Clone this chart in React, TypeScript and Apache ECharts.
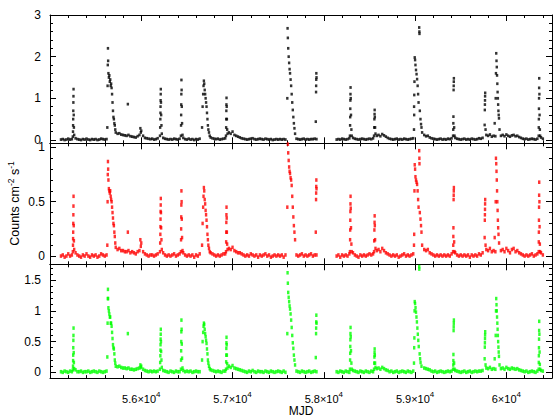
import React, { useEffect, useRef } from 'react';
import * as echarts from 'echarts';

// ---------- axes / ticks ----------
const X_MIN = 55000;
const X_MAX = 60500;
const X_MAJOR = [55000, 56000, 57000, 58000, 59000, 60000];
const X_MINOR = [55200, 55400, 55600, 55800, 56200, 56400, 56600, 56800, 57200, 57400, 57600, 57800,
  58200, 58400, 58600, 58800, 59200, 59400, 59600, 59800, 60200, 60400];
const X_LABEL_VALUES = [56000, 57000, 58000, 59000, 60000];
const X_LABEL_MANTISSA = ['5.6', '5.7', '5.8', '5.9', '6'];

const TOP_Y_RANGE = [-0.08, 3];
const TOP_Y_MAJOR = [0, 1, 2, 3];
const TOP_Y_MINOR = [0.2, 0.4, 0.6, 0.8, 1.2, 1.4, 1.6, 1.8, 2.2, 2.4, 2.6, 2.8];
const RED_Y_RANGE = [-0.076, 1.038];
const RED_Y_MAJOR = [0, 0.5, 1];
const RED_Y_MINOR = [0.1, 0.2, 0.3, 0.4, 0.6, 0.7, 0.8, 0.9];
const GREEN_Y_RANGE = [-0.094, 1.758];
const GREEN_Y_MAJOR = [0, 0.5, 1, 1.5];
const GREEN_Y_MINOR = [0.1, 0.2, 0.3, 0.4, 0.6, 0.7, 0.8, 0.9, 1.1, 1.2, 1.3, 1.4, 1.6, 1.7];

// ---------- data ----------
// quiescent monitoring, one value every BASE_STEP days from BASE_START (null = no data / flare listed separately)
const BASE_START = 55120;
const BASE_STEP = 20;
const _ = null;
const BLACK_BASE = [
  0.01, 0.02, 0.00, 0.01, 0.03, 0.01, 0.02, _, 0.04, 0.02,
  0.01, 0.00, 0.02, 0.01, 0.03, 0.01, 0.00, 0.02, 0.01, 0.02,
  0.00, 0.01, 0.03, 0.02, 0.01, 0.02, _, _, _, _,
  _, 0.15, 0.16, 0.13, 0.12, 0.11, 0.10, 0.12, 0.09, 0.08,
  0.07, 0.06, 0.09, 0.12, 0.22, 0.10, 0.05, 0.04, 0.03, 0.02,
  0.03, 0.01, 0.02, 0.04, _, _, 0.05, 0.03, 0.02, 0.01,
  0.02, 0.01, 0.03, 0.02, 0.01, 0.03, _, 0.05, 0.02, 0.01,
  0.03, 0.01, 0.02, 0.00, 0.02, 0.01, 0.03, _, _, _,
  _, _, 0.06, 0.04, 0.03, 0.02, 0.03, 0.01, 0.02, 0.03,
  0.04, _, 0.18, 0.15, 0.20, 0.12, 0.10, 0.08, 0.06, 0.04,
  0.03, 0.02, 0.01, 0.02, 0.03, 0.04, 0.02, 0.01, 0.02, 0.03,
  0.02, 0.01, 0.03, 0.02, 0.01, 0.02, 0.00, 0.01, 0.02, 0.01,
  0.02, 0.01, 0.02, 0.01, _, _, _, _, _, 0.03,
  0.02, 0.01, 0.02, 0.03, 0.01, 0.02, 0.01, 0.02, 0.02, 0.03,
  0.02, _, _, _, _, _, _, _, _, _,
  _, 0.01, 0.02, 0.01, 0.03, 0.02, 0.01, 0.02, 0.04, _,
  0.05, 0.03, 0.02, 0.01, 0.02, 0.03, 0.02, 0.01, 0.02, 0.03,
  0.02, 0.04, _, 0.10, 0.12, 0.09, 0.14, 0.11, 0.08, 0.05,
  0.03, 0.02, 0.01, 0.02, 0.03, 0.01, 0.02, 0.01, 0.03, 0.02,
  0.01, 0.02, 0.03, 0.04, _, _, _, _, _, 0.12,
  0.09, 0.10, 0.06, 0.04, 0.03, 0.02, 0.01, 0.02, 0.03, 0.01,
  0.02, 0.01, 0.03, 0.02, 0.04, _, 0.05, 0.03, 0.02, 0.01,
  0.02, 0.03, 0.01, 0.02, 0.01, 0.03, 0.02, 0.01, 0.02, 0.04,
  0.03, 0.05, _, 0.12, 0.10, 0.13, 0.08, 0.10, 0.09, _,
  _, 0.10, 0.12, 0.09, 0.13, 0.10, 0.08, 0.11, 0.12, 0.09,
  0.10, 0.07, 0.05, 0.03, 0.02, 0.03, 0.01, 0.02, 0.03, 0.02,
  0.01, 0.03, _, 0.06, 0.03,
];
const RED_BASE = [
  0.00, 0.01, -0.01, 0.00, 0.02, 0.00, 0.01, _, 0.03, 0.01,
  0.00, -0.01, 0.01, 0.00, 0.02, 0.00, -0.01, 0.01, 0.00, 0.01,
  -0.01, 0.00, 0.02, 0.01, 0.00, 0.01, _, _, _, _,
  _, 0.06, 0.07, 0.05, 0.05, 0.04, 0.04, 0.05, 0.03, 0.04,
  0.03, 0.02, 0.04, 0.05, 0.12, 0.04, 0.02, 0.01, 0.00, 0.01,
  0.01, 0.00, 0.01, 0.02, _, _, 0.03, 0.01, 0.00, 0.01,
  0.00, 0.01, 0.02, 0.00, 0.01, 0.02, _, 0.03, 0.01, 0.00,
  0.01, 0.00, 0.01, -0.01, 0.01, 0.00, 0.02, _, _, _,
  _, _, 0.03, 0.02, 0.01, 0.00, 0.01, 0.00, 0.01, 0.02,
  0.02, _, 0.07, 0.06, 0.08, 0.05, 0.04, 0.03, 0.03, 0.02,
  0.01, 0.00, 0.01, 0.00, 0.02, 0.01, 0.00, 0.01, -0.01, 0.01,
  0.00, 0.01, 0.02, 0.00, 0.01, -0.01, 0.00, 0.01, 0.00, 0.01,
  0.00, 0.01, -0.01, 0.01, _, _, _, _, _, 0.01,
  0.00, 0.01, 0.02, 0.00, 0.01, 0.00, 0.01, 0.02, 0.00, 0.01,
  0.01, _, _, _, _, _, _, _, _, _,
  _, 0.00, 0.01, -0.01, 0.01, 0.00, 0.01, 0.00, 0.02, _,
  0.03, 0.01, 0.00, -0.01, 0.01, 0.00, 0.01, 0.00, 0.01, 0.02,
  0.01, 0.02, _, 0.05, 0.06, 0.04, 0.07, 0.05, 0.03, 0.02,
  0.01, 0.00, 0.01, 0.00, 0.01, -0.01, 0.00, 0.01, 0.02, 0.00,
  0.01, 0.00, 0.01, 0.02, _, _, _, _, _, 0.06,
  0.05, 0.06, 0.03, 0.02, 0.01, 0.00, 0.01, 0.00, 0.01, 0.00,
  0.01, 0.00, 0.01, 0.00, 0.02, _, 0.03, 0.01, 0.00, 0.01,
  0.00, 0.01, 0.00, 0.01, -0.01, 0.01, 0.00, 0.01, 0.00, 0.02,
  0.01, 0.03, _, 0.06, 0.05, 0.07, 0.04, 0.05, 0.04, _,
  _, 0.05, 0.06, 0.04, 0.07, 0.05, 0.03, 0.06, 0.07, 0.04,
  0.05, 0.03, 0.02, 0.01, 0.00, 0.01, 0.00, 0.01, 0.02, 0.00,
  0.01, 0.02, _, 0.03, 0.01,
];
const GREEN_BASE = [
  0.01, 0.00, 0.02, 0.01, 0.00, 0.02, 0.01, _, 0.04, 0.01,
  0.01, 0.02, 0.00, 0.01, 0.01, 0.02, 0.00, 0.01, 0.02, 0.01,
  0.00, 0.02, 0.01, 0.00, 0.01, 0.02, _, _, _, _,
  _, 0.09, 0.10, 0.08, 0.07, 0.07, 0.06, 0.07, 0.05, 0.05,
  0.04, 0.05, 0.06, 0.07, 0.10, 0.05, 0.03, 0.02, 0.01, 0.02,
  0.01, 0.02, 0.01, 0.02, _, _, 0.03, 0.02, 0.01, 0.00,
  0.02, 0.01, 0.00, 0.02, 0.01, 0.01, _, 0.03, 0.01, 0.02,
  0.01, 0.02, 0.00, 0.01, 0.02, 0.01, 0.01, _, _, _,
  _, _, 0.04, 0.03, 0.02, 0.01, 0.02, 0.01, 0.00, 0.02,
  0.02, _, 0.10, 0.08, 0.11, 0.07, 0.06, 0.05, 0.04, 0.03,
  0.02, 0.01, 0.00, 0.02, 0.01, 0.03, 0.01, 0.00, 0.02, 0.01,
  0.01, 0.00, 0.02, 0.01, 0.00, 0.02, 0.01, 0.00, 0.01, 0.02,
  0.01, 0.00, 0.02, 0.00, _, _, _, _, _, 0.02,
  0.01, 0.00, 0.02, 0.01, 0.00, 0.01, 0.02, 0.00, 0.01, 0.02,
  0.01, _, _, _, _, _, _, _, _, _,
  _, 0.01, 0.00, 0.02, 0.01, 0.00, 0.02, 0.01, 0.00, _,
  0.03, 0.02, 0.01, 0.00, 0.02, 0.01, 0.00, 0.02, 0.01, 0.00,
  0.02, 0.01, _, 0.06, 0.07, 0.05, 0.08, 0.06, 0.04, 0.03,
  0.01, 0.02, 0.00, 0.01, 0.02, 0.00, 0.01, 0.02, 0.01, 0.00,
  0.02, 0.01, 0.00, 0.02, _, _, _, _, _, 0.07,
  0.06, 0.05, 0.04, 0.02, 0.01, 0.02, 0.00, 0.01, 0.02, 0.01,
  0.00, 0.01, 0.02, 0.01, 0.02, _, 0.03, 0.02, 0.01, 0.00,
  0.01, 0.02, 0.00, 0.01, 0.02, 0.00, 0.01, 0.02, 0.01, 0.02,
  0.02, 0.03, _, 0.07, 0.06, 0.08, 0.05, 0.06, 0.05, _,
  _, 0.06, 0.07, 0.05, 0.08, 0.06, 0.05, 0.07, 0.06, 0.05,
  0.06, 0.04, 0.03, 0.02, 0.01, 0.02, 0.00, 0.01, 0.02, 0.01,
  0.00, 0.02, _, 0.03, 0.02,
];

// outbursts: [MJD, counts]
const BLACK_FLARES = [
  [55250, 0.08], [55252, 0.2], [55253, 0.35], [55254, 0.5], [55255, 0.7], [55256, 0.9], [55257, 1.05], [55258, 1.22], [55260, 0.6], [55262, 0.3], [55265, 0.12],
  [55628, 0.3], [55631, 1.3], [55633, 1.8], [55635, 2.2], [55637, 1.9], [55640, 1.6], [55645, 1.5], [55650, 1.55], [55655, 1.4], [55660, 1.45], [55665, 1.3], [55670, 1.35], [55675, 1.25], [55680, 1.1], [55685, 0.9], [55690, 0.7], [55695, 0.55], [55700, 0.5], [55705, 0.4], [55710, 0.35], [55715, 0.25], [55720, 0.18],
  [55853, 0.86], [55990, 0.28], [55995, 0.18],
  [56205, 0.1], [56207, 0.3], [56209, 0.5], [56210, 0.65], [56211, 0.8], [56212, 0.95], [56213, 1.1], [56214, 1.22], [56216, 0.9], [56218, 0.6], [56221, 0.35], [56225, 0.15],
  [56434, 0.1], [56436, 0.35], [56437, 0.6], [56438, 0.85], [56439, 1.1], [56440, 1.44], [56442, 1.2], [56444, 0.8], [56447, 0.4], [56452, 0.12],
  [56666, 0.3], [56672, 0.8], [56678, 1.1], [56682, 1.3], [56686, 1.42], [56690, 1.35], [56695, 1.2], [56700, 1.1], [56705, 1.0], [56710, 0.9], [56715, 0.8], [56720, 0.65], [56725, 0.5], [56730, 0.35], [56735, 0.25], [56742, 0.18], [56750, 0.1],
  [56928, 0.1], [56930, 0.3], [56931, 0.5], [56932, 0.7], [56933, 0.85], [56934, 1.01], [56936, 0.8], [56938, 0.5], [56941, 0.25], [56945, 0.15],
  [57600, 1.0], [57603, 2.68], [57606, 2.45], [57610, 2.2], [57615, 2.0], [57620, 1.85], [57625, 1.7], [57630, 1.6], [57636, 1.45], [57642, 1.3], [57648, 1.1], [57654, 0.9], [57660, 0.72], [57666, 0.55], [57672, 0.4], [57678, 0.28], [57685, 0.15],
  [57912, 0.44], [57915, 1.15], [57916, 1.3], [57917, 1.45], [57918, 1.6], [57920, 1.5],
  [58286, 0.1], [58288, 0.35], [58289, 0.55], [58290, 0.75], [58291, 0.95], [58292, 1.1], [58293, 1.26], [58295, 1.0], [58298, 0.6], [58302, 0.25], [58306, 0.1],
  [58550, 0.1], [58552, 0.3], [58554, 0.5], [58556, 0.62], [58557, 0.72], [58559, 0.55], [58562, 0.3], [58566, 0.15],
  [58988, 0.25], [58989, 0.8], [58991, 1.08], [58990, 0.6], [58993, 1.4], [58996, 1.98], [59000, 1.92], [59004, 1.8], [59010, 1.68], [59016, 1.58], [59022, 1.46], [59028, 1.3], [59033, 1.1], [59038, 0.9], [59045, 2.7], [59047, 2.6], [59048, 2.55], [59052, 0.7], [59059, 0.5], [59065, 0.38], [59070, 0.3], [59077, 0.18],
  [59416, 0.1], [59418, 0.25], [59419, 0.4], [59420, 0.56], [59422, 1.2], [59423, 1.3], [59424, 1.4], [59425, 1.48], [59428, 0.3], [59432, 0.1],
  [59762, 0.36], [59764, 0.72], [59765, 0.85], [59766, 0.95], [59767, 1.05], [59768, 1.13], [59772, 0.25],
  [59872, 0.4], [59883, 1.0], [59886, 1.6], [59889, 2.08], [59892, 1.9], [59895, 1.75], [59898, 1.55], [59901, 1.35], [59904, 1.15], [59907, 1.0], [59910, 0.85], [59913, 0.7], [59916, 0.6], [59919, 0.52], [59925, 0.25],
  [60354, 0.1], [60355, 0.3], [60356, 0.5], [60357, 0.75], [60358, 1.0], [60359, 1.25], [60360, 1.48], [60362, 1.1], [60364, 0.6], [60367, 0.25], [60370, 0.1],
];
const RED_FLARES = [
  [55250, 0.04], [55252, 0.1], [55253, 0.16], [55254, 0.22], [55255, 0.3], [55256, 0.38], [55257, 0.46], [55258, 0.55], [55260, 0.28], [55262, 0.14], [55265, 0.06],
  [55628, 0.1], [55631, 0.5], [55633, 0.75], [55635, 0.87], [55637, 0.8], [55640, 0.7], [55645, 0.62], [55650, 0.6], [55655, 0.58], [55660, 0.6], [55665, 0.55], [55670, 0.52], [55675, 0.5], [55680, 0.45], [55685, 0.4], [55690, 0.35], [55695, 0.3], [55700, 0.28], [55705, 0.22], [55710, 0.18], [55715, 0.12], [55720, 0.08],
  [55853, 0.22], [55990, 0.15], [55995, 0.09],
  [56205, 0.04], [56207, 0.12], [56209, 0.2], [56210, 0.27], [56211, 0.34], [56212, 0.41], [56213, 0.47], [56214, 0.53], [56216, 0.4], [56218, 0.26], [56221, 0.15], [56225, 0.06],
  [56434, 0.04], [56436, 0.15], [56437, 0.25], [56438, 0.36], [56439, 0.47], [56440, 0.6], [56442, 0.5], [56444, 0.34], [56447, 0.17], [56452, 0.05],
  [56666, 0.1], [56672, 0.3], [56678, 0.45], [56682, 0.55], [56686, 0.63], [56690, 0.6], [56695, 0.52], [56700, 0.48], [56705, 0.42], [56710, 0.38], [56715, 0.33], [56720, 0.27], [56725, 0.2], [56730, 0.15], [56735, 0.1], [56742, 0.07], [56750, 0.04],
  [56928, 0.04], [56930, 0.13], [56931, 0.22], [56932, 0.31], [56933, 0.38], [56934, 0.45], [56936, 0.35], [56938, 0.22], [56941, 0.11], [56945, 0.06],
  [57600, 0.45], [57603, 1.1], [57606, 1.03], [57610, 0.95], [57615, 0.88], [57620, 0.82], [57625, 0.78], [57630, 0.76], [57636, 0.72], [57642, 0.7], [57648, 0.65], [57654, 0.55], [57660, 0.45], [57666, 0.36], [57672, 0.28], [57678, 0.22], [57685, 0.15],
  [57912, 0.22], [57915, 0.52], [57916, 0.58], [57917, 0.64], [57918, 0.7], [57920, 0.62],
  [58286, 0.04], [58288, 0.15], [58289, 0.24], [58290, 0.33], [58291, 0.41], [58292, 0.48], [58293, 0.55], [58295, 0.44], [58298, 0.26], [58302, 0.11], [58306, 0.04],
  [58550, 0.04], [58552, 0.14], [58554, 0.24], [58556, 0.31], [58557, 0.37], [58559, 0.28], [58562, 0.15], [58566, 0.07],
  [58988, 0.1], [58990, 0.2], [58993, 0.6], [58996, 0.84], [59000, 0.8], [59004, 0.73], [59010, 0.7], [59016, 0.68], [59022, 0.66], [59028, 0.6], [59033, 0.52], [59038, 0.45], [59045, 0.97], [59047, 0.9], [59048, 0.85], [59052, 0.4], [59059, 0.34], [59065, 0.28], [59070, 0.22], [59077, 0.1],
  [59416, 0.04], [59418, 0.1], [59419, 0.18], [59420, 0.26], [59422, 0.52], [59423, 0.56], [59424, 0.6], [59425, 0.63], [59428, 0.13], [59432, 0.04],
  [59762, 0.17], [59764, 0.33], [59765, 0.38], [59766, 0.43], [59767, 0.48], [59768, 0.52], [59772, 0.1],
  [59872, 0.17], [59883, 0.5], [59886, 0.9], [59889, 0.85], [59892, 0.78], [59895, 0.7], [59898, 0.6], [59901, 0.5], [59904, 0.42], [59907, 0.33], [59910, 0.26], [59914, 0.2], [59920, 0.12],
  [60354, 0.04], [60355, 0.13], [60356, 0.22], [60357, 0.33], [60358, 0.45], [60359, 0.56], [60360, 0.68], [60362, 0.5], [60364, 0.27], [60367, 0.11], [60370, 0.04],
];
const GREEN_FLARES = [
  [55250, 0.04], [55252, 0.1], [55253, 0.19], [55254, 0.28], [55255, 0.4], [55256, 0.52], [55257, 0.6], [55258, 0.72], [55260, 0.32], [55262, 0.16], [55265, 0.06],
  [55628, 0.25], [55631, 0.8], [55633, 1.2], [55635, 1.35], [55637, 1.2], [55640, 1.05], [55645, 1.0], [55650, 0.95], [55655, 0.9], [55660, 0.9], [55665, 0.8], [55670, 0.8], [55675, 0.75], [55680, 0.65], [55685, 0.55], [55690, 0.45], [55695, 0.4], [55700, 0.38], [55705, 0.3], [55710, 0.2], [55715, 0.15], [55720, 0.1],
  [55853, 0.63], [55990, 0.12], [55995, 0.08],
  [56205, 0.05], [56207, 0.16], [56209, 0.27], [56210, 0.36], [56211, 0.45], [56212, 0.54], [56213, 0.62], [56214, 0.7], [56216, 0.5], [56218, 0.34], [56221, 0.2], [56225, 0.08],
  [56434, 0.05], [56436, 0.2], [56437, 0.35], [56438, 0.5], [56439, 0.66], [56440, 0.85], [56442, 0.7], [56444, 0.46], [56447, 0.23], [56452, 0.07],
  [56666, 0.2], [56672, 0.5], [56678, 0.65], [56682, 0.75], [56686, 0.8], [56690, 0.78], [56695, 0.7], [56700, 0.63], [56705, 0.58], [56710, 0.52], [56715, 0.47], [56720, 0.38], [56725, 0.3], [56730, 0.2], [56735, 0.15], [56742, 0.1], [56750, 0.06],
  [56928, 0.05], [56930, 0.17], [56931, 0.28], [56932, 0.39], [56933, 0.48], [56934, 0.57], [56936, 0.45], [56938, 0.28], [56941, 0.14], [56945, 0.07],
  [57600, 0.63], [57603, 1.62], [57606, 1.45], [57610, 1.3], [57615, 1.22], [57620, 1.15], [57625, 1.08], [57630, 1.03], [57636, 0.95], [57642, 0.85], [57648, 0.73], [57654, 0.6], [57660, 0.48], [57666, 0.39], [57672, 0.28], [57678, 0.2], [57685, 0.12],
  [57912, 0.24], [57915, 0.63], [57916, 0.72], [57917, 0.82], [57918, 0.93], [57920, 0.8],
  [58286, 0.05], [58288, 0.2], [58289, 0.31], [58290, 0.42], [58291, 0.53], [58292, 0.63], [58293, 0.73], [58295, 0.58], [58298, 0.35], [58302, 0.15], [58306, 0.05],
  [58550, 0.05], [58552, 0.15], [58554, 0.25], [58556, 0.32], [58557, 0.38], [58559, 0.28], [58562, 0.15], [58566, 0.08],
  [58988, 0.15], [58990, 0.4], [58992, 0.56], [58994, 1.0], [58996, 1.15], [59000, 1.12], [59005, 1.05], [59010, 0.98], [59015, 0.9], [59020, 0.82], [59025, 0.72], [59030, 0.62], [59035, 0.52], [59040, 0.42], [59045, 1.72], [59046, 1.68], [59050, 0.3], [59055, 0.22], [59060, 0.16], [59070, 0.1],
  [59416, 0.05], [59418, 0.12], [59419, 0.19], [59420, 0.29], [59422, 0.68], [59423, 0.74], [59424, 0.8], [59425, 0.85], [59428, 0.15], [59432, 0.05],
  [59762, 0.22], [59764, 0.41], [59765, 0.48], [59766, 0.55], [59767, 0.61], [59768, 0.66], [59772, 0.12],
  [59872, 0.22], [59883, 0.6], [59886, 1.0], [59889, 1.2], [59892, 1.1], [59895, 1.0], [59898, 0.9], [59901, 0.8], [59904, 0.7], [59907, 0.6], [59910, 0.5], [59913, 0.41], [59916, 0.33], [59919, 0.26], [59925, 0.12],
  [60354, 0.05], [60355, 0.16], [60356, 0.27], [60357, 0.4], [60358, 0.54], [60359, 0.68], [60360, 0.83], [60362, 0.62], [60364, 0.33], [60367, 0.13], [60370, 0.05],
];

// ---------- build ----------
const FONT = "'Liberation Sans', Arial, Helvetica, sans-serif";
const AX = { color: '#000', width: 1 };

function seriesData(base: (number | null)[], flares: number[][]) {
  const pts: number[][] = [];
  base.forEach((v, i) => {
    if (v !== null) pts.push([BASE_START + i * BASE_STEP, v]);
  });
  return pts.concat(flares);
}

function xAxes(gridIndex: number, labelled: boolean) {
  const base = { type: 'value', gridIndex, min: X_MIN, max: X_MAX, splitLine: { show: false } };
  const label = labelled
    ? {
        show: true,
        customValues: X_LABEL_VALUES,
        margin: 12,
        formatter: (v: number) => `{b|${X_LABEL_MANTISSA[X_LABEL_VALUES.indexOf(v)]}×10}{s|4}`,
        rich: {
          b: { fontSize: 11, fontFamily: FONT, color: '#000', lineHeight: 14, verticalAlign: 'bottom' },
          s: { fontSize: 8, fontFamily: FONT, color: '#000', lineHeight: 8, verticalAlign: 'top' },
        },
      }
    : { show: false };
  return [
    {
      ...base, position: 'bottom',
      axisLine: { show: true, onZero: false, lineStyle: AX },
      axisTick: { show: true, inside: true, length: 6, customValues: X_MAJOR, lineStyle: AX },
      axisLabel: label,
      name: labelled ? 'MJD' : '',
      nameLocation: 'middle',
      nameGap: 24,
      nameTextStyle: { fontSize: 12, fontFamily: FONT, color: '#000' },
    },
    {
      ...base, position: 'bottom',
      axisLine: { show: false, onZero: false },
      axisTick: { show: true, inside: true, length: 3, customValues: X_MINOR, lineStyle: AX },
      axisLabel: { show: false },
    },
    {
      ...base, position: 'top',
      axisLine: { show: true, onZero: false, lineStyle: AX },
      axisTick: { show: true, inside: true, length: 6, customValues: X_MAJOR, lineStyle: AX },
      axisLabel: { show: false },
    },
    {
      ...base, position: 'top',
      axisLine: { show: false, onZero: false },
      axisTick: { show: true, inside: true, length: 3, customValues: X_MINOR, lineStyle: AX },
      axisLabel: { show: false },
    },
  ];
}

function yAxes(gridIndex: number, range: number[], major: number[], minor: number[], margin: number) {
  const base = { type: 'value', gridIndex, min: range[0], max: range[1], splitLine: { show: false } };
  return [
    {
      ...base, position: 'left',
      axisLine: { show: true, onZero: false, lineStyle: AX },
      axisTick: { show: true, inside: true, length: 6, customValues: major, lineStyle: AX },
      axisLabel: { show: true, customValues: major, margin, fontSize: 12, fontFamily: FONT, color: '#000' },
    },
    {
      ...base, position: 'left',
      axisLine: { show: false, onZero: false },
      axisTick: { show: true, inside: true, length: 3, customValues: minor, lineStyle: AX },
      axisLabel: { show: false },
    },
    {
      ...base, position: 'right',
      axisLine: { show: true, onZero: false, lineStyle: AX },
      axisTick: { show: true, inside: true, length: 6, customValues: major, lineStyle: AX },
      axisLabel: { show: false },
    },
    {
      ...base, position: 'right',
      axisLine: { show: false, onZero: false },
      axisTick: { show: true, inside: true, length: 3, customValues: minor, lineStyle: AX },
      axisLabel: { show: false },
    },
  ];
}

function scatter(p: number, data: number[][], color: string, size: number[]) {
  return {
    type: 'scatter',
    xAxisIndex: p * 4,
    yAxisIndex: p * 4,
    data,
    symbol: 'rect',
    symbolSize: size,
    itemStyle: { color },
    silent: true,
    clip: true,
  };
}

const option = {
  animation: false,
  backgroundColor: '#fff',
  grid: [
    { left: 50, top: 15, width: 502, height: 128.3 },
    { left: 50, top: 143.3, width: 502, height: 121 },
    { left: 50, top: 264.3, width: 502, height: 124.7 },
  ],
  xAxis: [...xAxes(0, false), ...xAxes(1, false), ...xAxes(2, true)],
  yAxis: [
    ...yAxes(0, TOP_Y_RANGE, TOP_Y_MAJOR, TOP_Y_MINOR, 9),
    ...yAxes(1, RED_Y_RANGE, RED_Y_MAJOR, RED_Y_MINOR, 5),
    ...yAxes(2, GREEN_Y_RANGE, GREEN_Y_MAJOR, GREEN_Y_MINOR, 9),
  ],
  series: [
    scatter(0, seriesData(BLACK_BASE, BLACK_FLARES), '#000000', [2.4, 2.8]),
    scatter(1, seriesData(RED_BASE, RED_FLARES), '#ff0000', [2.4, 3.6]),
    scatter(2, seriesData(GREEN_BASE, GREEN_FLARES), '#00ff00', [2.4, 3.6]),
  ],
  graphic: [
    {
      type: 'text',
      x: 14,
      y: 203.5,
      rotation: Math.PI / 2,
      style: {
        text: '{a|Counts cm}{s|-2}{a| s}{s|-1}',
        align: 'center',
        verticalAlign: 'middle',
        rich: {
          a: { fontSize: 12.5, fontFamily: FONT, fill: '#000', lineHeight: 15, verticalAlign: 'bottom' },
          s: { fontSize: 8.5, fontFamily: FONT, fill: '#000', lineHeight: 9, verticalAlign: 'top' },
        },
      },
    },
  ],
};

export default function App() {
  const ref = useRef<HTMLDivElement>(null);
  useEffect(() => {
    const chart = echarts.init(ref.current as HTMLDivElement, null, { renderer: 'svg', width: 553, height: 418 });
    chart.setOption(option as any);
    return () => chart.dispose();
  }, []);
  return (
    <div
      ref={ref}
      style={{ position: 'fixed', left: 0, top: 0, width: 553, height: 418, background: '#fff' }}
    />
  );
}
